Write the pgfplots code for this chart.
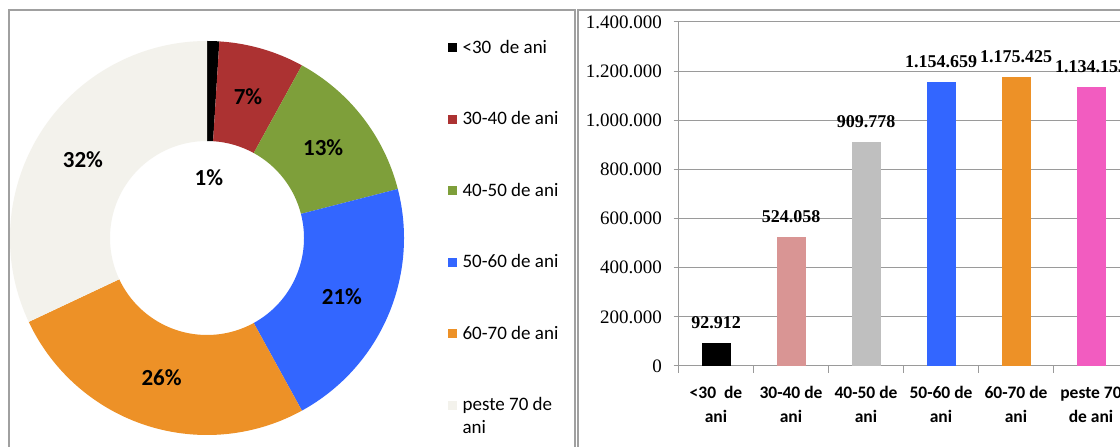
\documentclass[border=0pt]{standalone}
\usepackage{fontspec}
\setmainfont{Liberation Serif}
\newfontfamily\carlito{Carlito}
\usepackage{pgfplots}
\pgfplotsset{compat=1.18}

\definecolor{cred}{HTML}{AC3232}
\definecolor{cgreen}{HTML}{7E9F3A}
\definecolor{cblue}{HTML}{3366FF}
\definecolor{corange}{HTML}{ED9127}
\definecolor{clight}{HTML}{F3F2EC}
\definecolor{bpink}{HTML}{D99594}
\definecolor{bgray}{HTML}{BFBFBF}
\definecolor{bblue}{HTML}{3366FF}
\definecolor{borange}{HTML}{ED9127}
\definecolor{bmag}{HTML}{F25CC0}
\definecolor{axgray}{HTML}{9A9A9A}
\definecolor{frame}{HTML}{A0A0A0}

\begin{document}
\begin{tikzpicture}
\path[use as bounding box, clip] (0pt,0pt) rectangle (1120pt,447pt);
\fill[white] (0pt,0pt) rectangle (1120pt,447pt);

% ---------------- donut chart ----------------
\begin{axis}[
  x=1pt, y=1pt, hide axis,
  xmin=-200, xmax=200, ymin=-200, ymax=200,
  anchor=south west, at={(7pt,9pt)},
  clip=false,
  legend cell align=left,
  legend image code/.code={\fill[#1] (0pt,-3pt) rectangle (8pt,5pt);},
  legend style={at={(axis cs:241,199)}, anchor=north west, draw=none, fill=none,
    inner sep=0pt, row sep=52.5pt, column sep=6pt,
    font=\carlito\fontsize{19}{23}\selectfont,
    nodes={inner sep=0pt, text height=14pt, text depth=5pt}},
]
\addlegendimage{black}\addlegendentry{<30\ \ de ani}
\addlegendimage{cred}\addlegendentry{30-40 de ani}
\addlegendimage{cgreen}\addlegendentry{40-50 de ani}
\addlegendimage{cblue}\addlegendentry{50-60 de ani}
\addlegendimage{corange}\addlegendentry{60-70 de ani}
\addlegendimage{clight}\addlegendentry{\begin{tabular}[t]{@{}l@{}}peste 70 de\\ani\end{tabular}}
\pgfplotsextra{
  \gdef\cum{0}
  \foreach \p/\c/\rr in {1/black/60, 7/cred/147, 13/cgreen/147, 21/cblue/147, 26/corange/147, 32/clight/147}{
    \pgfmathsetmacro\aa{90-3.6*\cum}
    \pgfmathsetmacro\bb{90-3.6*(\cum+\p)}
    \pgfmathsetmacro\mm{(\aa+\bb)/2}
    \fill[\c] (axis cs:{197*cos(\aa)},{197*sin(\aa)}) arc[start angle=\aa, end angle=\bb, radius=197pt]
      -- (axis cs:{97*cos(\bb)},{97*sin(\bb)}) arc[start angle=\bb, end angle=\aa, radius=97pt] -- cycle;
    \node[font=\carlito\bfseries\fontsize{23}{23}\selectfont] at (axis cs:{\rr*cos(\mm)},{\rr*sin(\mm)}) {\p\%};
    \pgfmathsetmacro\newcum{\cum+\p}
    \global\let\cum\newcum
  }
}
\end{axis}

% ---------------- bar chart ----------------
\begin{axis}[
  scale only axis, width=450pt, height=344pt,
  anchor=south west, at={(678.5pt,81pt)},
  xmin=-0.5, xmax=5.5, ymin=0, ymax=1400000,
  axis lines*=left,
  axis line style={draw=axgray, line width=1pt},
  ytick={0,200000,400000,600000,800000,1000000,1200000,1400000},
  scaled y ticks=false,
  ymajorgrids,
  major grid style={draw=axgray, line width=1pt},
  tick align=outside, major tick length=5pt, minor tick length=7pt,
  every tick/.append style={draw=axgray, line width=1pt},
  every major x tick/.append style={draw=none},
  xtick={0,1,2,3,4,5},
  xticklabels={{<30\ \ de\\ani},{30-40 de\\ani},{40-50 de\\ani},{50-60 de\\ani},{60-70 de\\ani},{peste 70\\de ani}},
  minor xtick={-0.5,0.5,1.5,2.5,3.5,4.5,5.5},
  /pgf/number format/fixed,
  /pgf/number format/1000 sep={.},
  /pgf/number format/assume math mode=true,
  yticklabel style={font=\fontsize{19}{19}\selectfont, xshift=-8pt},
  xticklabel style={font=\carlito\bfseries\fontsize{17.5}{24}\selectfont, align=center, yshift=-12pt},
  ybar, bar width=29pt,
  nodes near coords,
  every node near coord/.append style={font=\bfseries\fontsize{18}{18}\selectfont, anchor=base, yshift=15pt},
]
\addplot[fill=black, draw=none, bar shift=0pt] coordinates {(0,92912)};
\addplot[fill=bpink, draw=none, bar shift=0pt] coordinates {(1,524058)};
\addplot[fill=bgray, draw=none, bar shift=0pt] coordinates {(2,909778)};
\addplot[fill=bblue, draw=none, bar shift=0pt] coordinates {(3,1154659)};
\addplot[fill=borange, draw=none, bar shift=0pt] coordinates {(4,1175425)};
\addplot[fill=bmag, draw=none, bar shift=0pt] coordinates {(5,1134153)};
\end{axis}

% panel frames
\draw[frame, line width=1.2pt] (9pt,0pt) -- (9pt,437pt) -- (575pt,437pt) -- (575pt,0pt);
\draw[frame, line width=1.5pt] (578pt,0pt) -- (578pt,437pt) -- (1120pt,437pt);
\end{tikzpicture}
\end{document}
